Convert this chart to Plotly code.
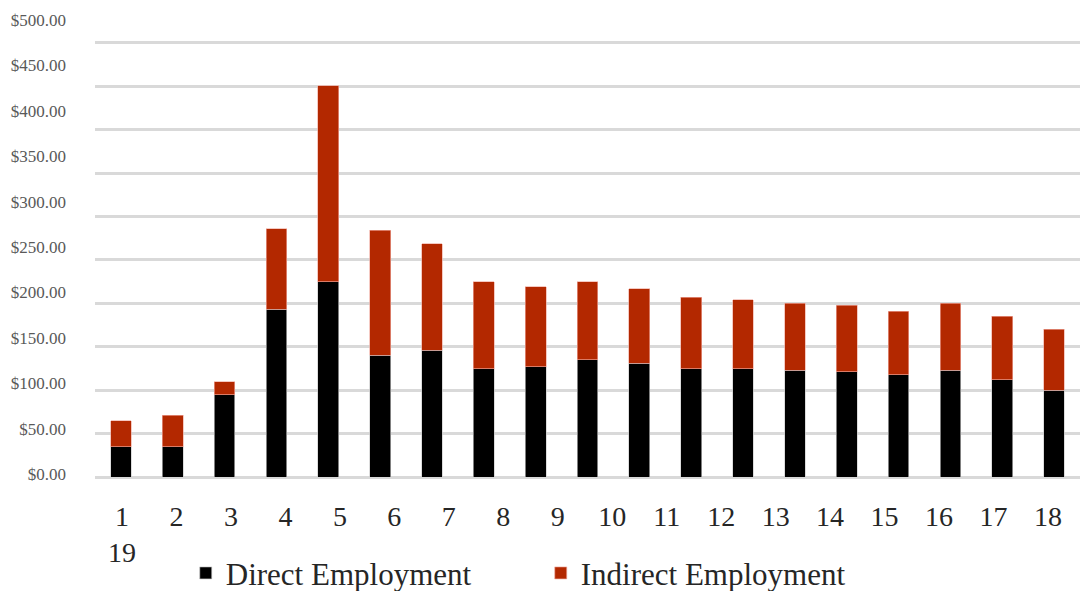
import plotly.graph_objects as go

categories = [str(i) for i in range(1, 20)]
direct = [35, 35, 95, 193, 225, 140, 146, 125, 127, 135, 131, 125, 125, 123, 121, 118, 123, 112, 100]
indirect = [30, 36, 15, 93, 226, 144, 123, 100, 92, 90, 86, 82, 79, 77, 77, 73, 77, 73, 70]
y_ticks = list(range(0, 501, 50))
y_tick_text = [f"${v:,.2f}" for v in y_ticks]

# x label row: labels 1..18 on the first line, 19 wraps under 1
x_label_vals = list(range(1, 19))
x_label_text = categories[:18].copy()
x_label_text[0] = categories[0] + "<br>" + categories[18]

SERIF = "Liberation Serif, Times New Roman, serif"

fig = go.Figure()
fig.add_trace(go.Bar(
    x=categories, y=direct, name="Direct Employment",
    marker=dict(color="#000000", line=dict(color="rgba(200,200,200,0.8)", width=0.8)),
))
fig.add_trace(go.Bar(
    x=categories, y=indirect, name="Indirect Employment",
    marker=dict(color="#B32800", line=dict(color="rgba(240,170,160,0.8)", width=0.8)),
))
# empty trace so the label axes (x2 / y2) are drawn
fig.add_trace(go.Scatter(
    x=[None], y=[None], xaxis="x2", yaxis="y2",
    mode="markers", showlegend=False, hoverinfo="skip",
))

fig.update_layout(
    width=1080, height=591,
    margin=dict(l=95, r=0, t=10, b=114, autoexpand=False),
    barmode="stack",
    bargap=0.6,
    plot_bgcolor="white",
    paper_bgcolor="white",
    font=dict(family=SERIF, color="#262626"),
    showlegend=True,
    legend=dict(
        orientation="h",
        traceorder="normal",
        xref="container", yref="container",
        x=0.172, y=0.03, xanchor="left", yanchor="middle",
        font=dict(size=31, color="#262626", family=SERIF),
        entrywidth=310, entrywidthmode="pixels",
        bgcolor="rgba(0,0,0,0)",
    ),
    xaxis=dict(
        type="category", automargin=False,
        showticklabels=False, ticks="",
        showgrid=False, zeroline=False, showline=False,
    ),
    yaxis=dict(
        range=[0, 538], automargin=False,
        tickvals=y_ticks,
        showticklabels=False, ticks="",
        showgrid=True, gridcolor="#d9d9d9", gridwidth=2.5,
        zeroline=True, zerolinecolor="#d9d9d9", zerolinewidth=2.5,
        showline=False,
    ),
    xaxis2=dict(
        overlaying="x", anchor="y", side="bottom", automargin=False,
        range=[0.504, 18.588],
        tickmode="array", tickvals=x_label_vals, ticktext=x_label_text,
        tickfont=dict(size=28, color="#262626", family=SERIF),
        ticks="", showgrid=False, zeroline=False, showline=False,
        ticklabelstandoff=20,
    ),
    yaxis2=dict(
        overlaying="y", anchor="x", side="left", automargin=False,
        range=[-3.3, 511],
        tickmode="array", tickvals=y_ticks, ticktext=y_tick_text,
        tickfont=dict(size=17, color="#595959", family=SERIF),
        ticks="", showgrid=False, zeroline=False, showline=False,
        ticklabelstandoff=28,
    ),
)

fig.write_html("out.html")
